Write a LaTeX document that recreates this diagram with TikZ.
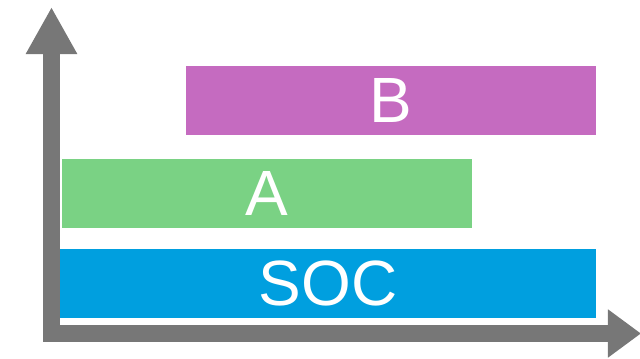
\documentclass[tikz,border=0pt]{standalone}
\usepackage{fontspec}
\setmainfont{Liberation Sans}
\usepackage{tikz}
\usetikzlibrary{arrows.meta,positioning}
\definecolor{axisGray}{HTML}{777777}
\definecolor{layerSoc}{HTML}{009FDF}
\definecolor{layerA}{HTML}{7AD284}
\definecolor{layerB}{HTML}{C56BC0}
\tikzset{
    layerBase/.style={
        rectangle,
        minimum height=1.725cm,
        inner sep=0pt,
        text=white,
        font=\fontsize{45.5}{52}\selectfont
    },
    % Semantic Variants
    socLayer/.style={layerBase, fill=layerSoc, minimum width=13.4cm},
    aLayer/.style={layerBase, fill=layerA, minimum width=10.25cm},
    bLayer/.style={layerBase, fill=layerB, minimum width=10.25cm},
    % Axes
    axisLine/.style={
        line width=0.425cm, draw=axisGray, line join=miter,
        {Triangle[length=1.175cm, width=1.2cm]}-{Triangle[length=0.825cm, width=1.15cm]}
    }
}
\begin{document}
\begin{tikzpicture}[x=0.025cm, y=-0.025cm]
    \useasboundingbox (0,0) rectangle (640,359);
    \clip (0,0) rectangle (640,359);

    \node[socLayer] (soc) at (328,283.5) {SOC};
    \node[aLayer] (a) at (267,193.5) {A};
    \node[bLayer] (b) at (391,100.5) {B};

    \coordinate (ytop) at (51.5,7);
    \coordinate (origin) at (51.5,333.5);
    \coordinate (xend) at (641,333.5);
    \draw[axisLine] (ytop) -- (origin) -- (xend);
\end{tikzpicture}
\end{document}
